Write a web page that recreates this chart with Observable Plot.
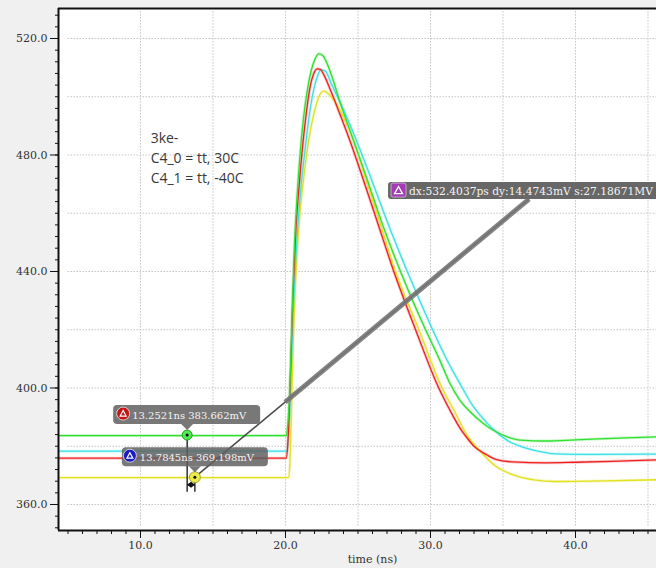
<!DOCTYPE html>
<html><head><meta charset="utf-8">
<script src="https://cdn.jsdelivr.net/npm/d3@7"></script>
<script src="https://cdn.jsdelivr.net/npm/@observablehq/plot@0.6"></script>
<style>
html,body{margin:0;padding:0;background:#f0f0f0;}
#chart{width:656px;height:568px;overflow:hidden;}
</style></head><body><div id="chart"></div>
<script>
// ---- data (time in ns, voltage in mV) ----
const greenWave = [[4.345,383.66],[20.05,383.66],[20.15,387],[20.3,400],[20.45,425],[20.6,447],[20.8,466],[21.0,480],[21.25,493],[21.5,502],[21.75,508.5],[22.0,512.5],[22.3,514.8],[22.6,514],[22.9,511],[23.3,505.5],[23.8,497.5],[24.3,490.5],[24.83,483],[25.5,473.5],[26.7,456],[27.93,440],[29.66,420],[30.6,410],[31.3,402],[32.0,396],[32.8,391.5],[33.6,388],[34.4,385.3],[35.3,383.2],[36.2,382.1],[38,381.8],[40,382.2],[43,382.8],[45.586,383.2]];
const cyanWave = [[4.345,378.3],[20.1,378.3],[20.2,383],[20.35,400],[20.55,428],[20.8,452],[21.05,468],[21.35,482],[21.65,494],[21.95,502.5],[22.2,507],[22.45,509.3],[22.75,508.8],[23.2,504],[24.0,495.5],[25.05,483],[26.2,468],[27.3,453.5],[28.4,440],[29.3,429.5],[30.1,420.5],[31.2,409],[32.2,400],[32.9,394],[33.45,390.5],[34.37,385.6],[35.3,382],[36.3,379.8],[37.24,378.5],[38.6,377.4],[41,377.2],[45.586,377.3]];
const redWave = [[4.345,375.9],[20.05,375.9],[20.15,380],[20.3,398],[20.5,430],[20.7,453],[20.95,470],[21.2,484],[21.45,495],[21.7,503.5],[21.95,508],[22.2,509.6],[22.4,509.4],[22.65,507.5],[23.0,503.5],[23.6,496],[24.4,485.5],[25.2,474],[26.3,457.5],[27.47,440],[28.97,420],[30.57,400],[31.38,392],[32.0,386.5],[32.5,383],[33,380],[33.9,377],[34.5,375.5],[35.7,374.6],[38,374.3],[40,374.5],[43,374.9],[45.586,375.3]];
const yellowWave = [[4.345,369.2],[20.2,369.2],[20.3,374],[20.4,390],[20.55,418],[20.75,442],[21.0,460],[21.3,474],[21.6,485],[21.95,494],[22.3,500],[22.65,502],[22.95,501],[23.3,499],[23.68,496],[24.7,485],[25.5,472.5],[26.5,457],[27.59,440],[29.2,420],[30.8,400],[31.6,392.5],[32.5,384],[33.45,378.2],[34.48,373.2],[35.7,370.2],[37.24,368.4],[38.6,367.9],[42,368.1],[45.586,368.5]];

const seriesNames = ["yellow","cyan","red","green"];
const seriesColors = ["#e2e21e","#3ee0e6","#ee2020","#2fe02f"];
const seriesGlow = ["#f0f0a0","#a8f2f4","#f4a0a0","#a0f0a0"];

const xMajorTicks = [10,20,30,40];
const xMinorTicks = d3.range(5,46,1);
const yMajorTicks = [360,400,440,480,520];
const yMinorTicks = d3.range(352,531,4);
const xGrid = [10,15,20,25,30,35,40,45];
const yGrid = [360,380,400,420,440,460,480,500,520];

const markerA = {t:13.2521, v:383.662, label:"13.2521ns 383.662mV"};
const markerB = {t:13.7845, v:369.198, label:"13.7845ns 369.198mV"};
const deltaText = "dx:532.4037ps dy:14.4743mV s:27.18671MV";
const noteLines = ["3ke-","C4_0 = tt, 30C","C4_1 = tt, -40C"];
const xTitle = "time (ns)";

// ---- layout constants ----
const xDomain = [4.345, 45.586];
const yDomain = [351.07, 530.3];
const gridStart = 5;
const deltaEnd = [36.83, 464.7];
const markerFoot = 364.2;
const notePos = [10.7, 489.0];

const waves = {yellow: yellowWave, cyan: cyanWave, red: redWave, green: greenWave};

const serif = "DejaVu Serif";

function annotations(index, scales) {
  const X = scales.x, Y = scales.y;
  const g = d3.create("svg:g").attr("text-anchor", "start");
  const pa = [X(markerA.t), Y(markerA.v)];
  const pb = [X(markerB.t), Y(markerB.v)];
  const pe = [X(deltaEnd[0]), Y(deltaEnd[1])];
  const foot = Y(markerFoot);

  // delta line
  g.append("line").attr("x1", pb[0]).attr("y1", pb[1]).attr("x2", pe[0]).attr("y2", pe[1])
    .attr("stroke", "#4a4a4a").attr("stroke-width", 1.6);
  const f = 0.27;
  g.append("line").attr("x1", pb[0] + (pe[0]-pb[0])*f).attr("y1", pb[1] + (pe[1]-pb[1])*f)
    .attr("x2", pe[0]).attr("y2", pe[1]).attr("stroke", "#777").attr("stroke-width", 5).attr("stroke-opacity", 0.9);

  // vertical marker lines
  g.append("line").attr("x1", pa[0]).attr("x2", pa[0]).attr("y1", pa[1]).attr("y2", foot).attr("stroke", "#111").attr("stroke-width", 1.3);
  g.append("line").attr("x1", pb[0]).attr("x2", pb[0]).attr("y1", pb[1]).attr("y2", foot).attr("stroke", "#111").attr("stroke-width", 1.3);
  const my = foot - 7, mx = (pa[0] + pb[0]) / 2;
  g.append("line").attr("x1", pa[0]).attr("x2", pb[0]).attr("y1", my).attr("y2", my).attr("stroke", "#111").attr("stroke-width", 1.2);
  g.append("path").attr("d", `M${mx-4},${my}L${mx},${my-3}L${mx+4},${my}L${mx},${my+3}Z`).attr("fill", "#111");

  // marker points
  g.append("circle").attr("cx", pa[0]).attr("cy", pa[1]).attr("r", 5).attr("fill", "#52ea52").attr("stroke", "#1e9e1e");
  g.append("circle").attr("cx", pa[0]).attr("cy", pa[1]).attr("r", 1.5).attr("fill", "#111");
  g.append("circle").attr("cx", pb[0]).attr("cy", pb[1]).attr("r", 5.5).attr("fill", "#eaea4a").attr("stroke", "#a6a620");
  g.append("circle").attr("cx", pb[0]).attr("cy", pb[1]).attr("r", 1.5).attr("fill", "#111");

  // marker labels
  function label(p, text, iconColor, left, width, iconDx) {
    const lg = g.append("g");
    lg.append("rect").attr("x", p[0] + left).attr("y", p[1] - 30).attr("width", width).attr("height", 19)
      .attr("rx", 4).attr("fill", "#606060").attr("fill-opacity", 0.85);
    lg.append("path").attr("d", `M${p[0]-6},${p[1]-11}L${p[0]+6},${p[1]-11}L${p[0]},${p[1]-5}Z`)
      .attr("fill", "#606060").attr("fill-opacity", 0.85);
    lg.append("circle").attr("cx", p[0] + iconDx).attr("cy", p[1] - 21.5).attr("r", 6.5)
      .attr("fill", iconColor).attr("stroke", "#eee").attr("stroke-width", 0.8);
    const ix = p[0] + iconDx, iy = p[1] - 21.5;
    lg.append("path").attr("d", `M${ix-3},${iy+2.5}L${ix},${iy-3}L${ix+3},${iy+2.5}Z`).attr("fill", "none").attr("stroke", "#fff").attr("stroke-width", 1.2);
    lg.append("text").attr("x", p[0] - 55).attr("y", p[1] - 16).attr("fill", "#f4f4f4").attr("text-anchor", "start")
      .attr("font-family", serif).attr("font-size", 10).text(text);
  }
  label(pa, markerA.label, "#c41616", -74, 147, -64);
  label(pb, markerB.label, "#1c1cc0", -73, 146, -65);

  // delta label
  const dg = g.append("g");
  dg.append("rect").attr("x", pe[0] - 141).attr("y", pe[1] - 17).attr("width", 300).attr("height", 17)
    .attr("rx", 3).attr("fill", "#676767");
  dg.append("rect").attr("x", pe[0] - 138).attr("y", pe[1] - 16).attr("width", 15).attr("height", 14)
    .attr("rx", 2).attr("fill", "#a43cb6").attr("stroke", "#d8b8e0").attr("stroke-width", 0.8);
  const qx = pe[0] - 130.5, qy = pe[1] - 9;
  dg.append("path").attr("d", `M${qx-4},${qy+3.5}L${qx},${qy-3.5}L${qx+4},${qy+3.5}Z`).attr("fill", "none").attr("stroke", "#fff").attr("stroke-width", 1.3);
  dg.append("text").attr("x", pe[0] - 120).attr("y", pe[1] - 4.5).attr("fill", "#f4f4f4").attr("text-anchor", "start")
    .attr("font-family", serif).attr("font-size", 10.7).text(deltaText);
  return g.node();
}

const marks = [
  Plot.frame({fill: "white", stroke: null}),
  Plot.ruleX(xGrid, {stroke: "#c4c4c4", strokeDasharray: "1.5,1.5", y1: yDomain[0] + 1.5, y2: yDomain[1] - 0.6}),
  Plot.ruleY(yGrid, {stroke: "#c4c4c4", strokeDasharray: "1.5,1.5", x1: gridStart, x2: xDomain[1]}),
];
seriesNames.forEach((n, i) => {
  marks.push(Plot.line(waves[n], {x: d => d[0], y: d => d[1], stroke: seriesGlow[i], strokeWidth: 3, strokeOpacity: 0.55, curve: "monotone-x"}));
});
seriesNames.forEach((n, i) => {
  marks.push(Plot.line(waves[n], {x: d => d[0], y: d => d[1], stroke: seriesColors[i], strokeWidth: 1.3, curve: "monotone-x"}));
});
marks.push(
  annotations,
  Plot.text([noteLines.join("\n")], {x: notePos[0], y: notePos[1], text: d => d, textAnchor: "start", lineAnchor: "top",
    lineHeight: 1.43, fontSize: 14, fontFamily: "Open Sans", fill: "#383838"}),
  Plot.ruleX([xDomain[0]], {stroke: "#111", strokeWidth: 2}),
  Plot.ruleY([yDomain[0]], {stroke: "#111", strokeWidth: 2}),
  Plot.ruleY([yDomain[1]], {stroke: "#111", strokeWidth: 2}),
  Plot.axisY(yMajorTicks, {tickSize: 8, tickPadding: 3, tickFormat: d => d.toFixed(1), label: null, fontSize: 11, fontFamily: serif, fill: "#333", stroke: "#111"}),
  Plot.axisY(yMinorTicks, {tickSize: 3, tickFormat: () => "", label: null, stroke: "#111"}),
  Plot.axisX(xMajorTicks, {tickSize: 8, tickPadding: 3, tickFormat: d => d.toFixed(1), label: null, fontSize: 11, fontFamily: serif, fill: "#333", stroke: "#111"}),
  Plot.axisX(xMinorTicks, {tickSize: 4, tickFormat: () => "", label: null, stroke: "#111"}),
  Plot.text([xTitle], {frameAnchor: "bottom", text: d => d, dx: 15, dy: 32, fontSize: 11, fontFamily: serif, fill: "#333"})
);

const chart = Plot.plot({
  width: 656, height: 568,
  marginLeft: 58, marginRight: 0, marginTop: 8, marginBottom: 38,
  style: {background: "#f0f0f0", overflow: "visible"},
  x: {domain: xDomain, axis: null},
  y: {domain: yDomain, axis: null},
  marks
});
document.getElementById("chart").appendChild(chart);
</script>
</body></html>
